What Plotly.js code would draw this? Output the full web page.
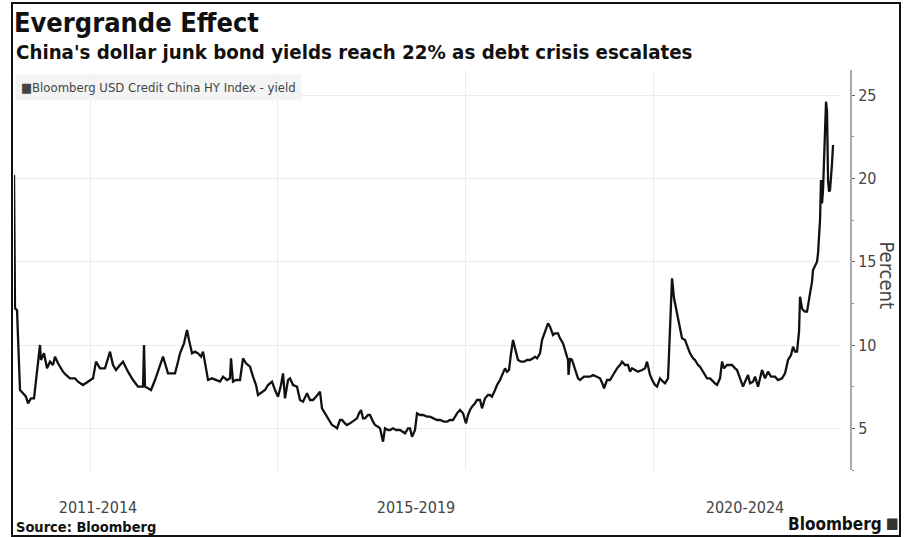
<!DOCTYPE html>
<html>
<head>
<meta charset="utf-8">
<script src="https://cdn.plot.ly/plotly-3.0.1.min.js"></script>
<style>
  html, body { margin: 0; padding: 0; background: #ffffff; }
  #frame { position: absolute; left: 11px; top: 2px; width: 886px; height: 531px; border: 2px solid #111; background: #fff; }
  #chart { width: 886px; height: 531px; }
</style>
</head>
<body>
<div id="frame"><div id="chart"></div></div>
<script>
// Time index (arbitrary hidden unit) and index yield in percent
const period = [0,0.5,1,3,4,6,9,12,14,17,20,22,24,26,27,30,33,36,39,41,44,49,52,56,61,64,69,74,79,82,86,91,94,96,99,102,106,109,114,119,124,129,130,131,134,137,141,144,149,154,158,161,164,166,170,173,175,178,181,184,187,189,192,194,198,203,206,209,213,216,217,219,222,226,229,232,236,239,242,244,248,251,254,258,261,264,267,269,271,274,276,279,283,286,289,293,296,299,302,306,308,311,313,316,318,321,323,326,328,331,333,336,338,341,343,345,347,349,351,354,356,359,361,364,366,369,371,374,376,379,382,386,389,391,394,396,398,401,403,406,409,413,416,420,423,426,430,433,436,439,441,443,446,449,452,454,456,458,461,463,466,468,471,474,476,478,481,483,486,489,491,493,495,497,499,501,504,507,510,513,516,519,521,523,526,528,531,534,536,539,541,544,546,549,551,554,554.5,556,558,561,564,566,570,573,576,579,582,586,589,590,593,596,599,603,606,608,611,614,616,618,621,624,628,631,633,636,639,641,643,646,649,651,654,656,658,660,662,664,666,668,671,674,676,679,681,684,686,688,691,693,696,699,701,703,706,708,710,713,716,718,721,723,726,729,731,734,736,739,741,744,746,748,751,754,757,761,764,768,771,774,777,779,781,783,785,786,788,789,791,793,796,798,799,801,803,804,805,806,807,808,809,810,811,812,813,814,815,816,818,819];
const yieldPct = [20.2,16.5,12.2,12.1,10.0,7.3,7.1,6.9,6.5,6.8,6.8,7.9,9.0,10.0,9.1,9.5,8.6,9.0,8.8,9.3,8.9,8.4,8.2,8.0,8.0,7.8,7.6,7.8,8.0,9.0,8.6,8.6,9.2,9.6,8.8,8.5,8.8,9.0,8.4,7.9,7.5,7.5,10.0,7.5,7.4,7.3,7.9,8.4,9.3,8.3,8.3,8.3,9.0,9.5,10.1,10.9,10.3,9.5,9.6,9.5,9.3,9.6,8.6,7.9,8.0,7.9,7.8,8.1,7.9,8.0,9.2,7.8,7.9,7.9,9.2,8.9,8.7,8.1,7.6,7.0,7.2,7.3,7.6,7.8,7.3,6.9,7.6,8.3,6.8,7.9,8.0,7.6,7.5,6.7,6.6,7.1,6.7,6.7,6.9,7.2,6.2,5.9,5.7,5.4,5.2,5.1,5.0,5.5,5.5,5.3,5.2,5.3,5.4,5.5,5.6,5.9,6.1,5.6,5.6,5.8,5.8,5.4,5.2,5.1,5.0,4.2,5.0,4.9,4.9,5.0,4.9,4.9,4.8,4.7,5.0,5.0,4.5,4.9,5.9,5.8,5.8,5.7,5.7,5.6,5.5,5.5,5.4,5.4,5.5,5.5,5.7,5.9,6.1,5.9,5.3,5.8,6.1,6.3,6.5,6.7,6.7,6.2,6.8,7.0,7.0,6.9,7.3,7.6,7.9,8.4,8.6,8.4,8.5,9.5,10.3,9.8,9.1,9.0,9.0,9.1,9.1,9.2,9.3,9.2,9.5,10.3,10.8,11.3,11.1,10.6,10.7,10.7,10.4,10.1,9.7,9.1,8.2,9.2,9.1,8.6,8.0,7.9,8.1,8.1,8.1,8.2,8.1,8.0,7.6,7.4,7.9,7.9,8.2,8.6,8.8,9.0,8.8,8.8,8.4,8.6,8.5,8.4,8.5,8.6,9.0,8.2,7.8,7.6,7.5,8.0,7.8,7.7,8.0,11.0,14.0,12.8,12.2,11.8,11.0,10.4,10.3,9.8,9.5,9.2,9.1,8.8,8.7,8.5,8.2,8.0,8.0,7.8,7.7,7.6,8.0,9.0,8.6,8.8,8.8,8.8,8.6,8.5,8.0,7.5,7.8,8.2,7.7,7.8,8.1,7.5,8.0,8.5,8.0,8.4,8.1,8.1,7.9,8.0,8.3,9.1,9.4,9.9,9.6,9.6,10.8,12.9,12.2,12.1,12.0,12.0,13.1,13.8,14.5,14.8,15.0,15.5,16.5,17.5,19.9,18.5,19.3,21.1,22.5,24.6,24.0,19.9,19.2,19.3,20.9,22.0];

const gridPeriods = [76, 263, 451, 639];
const labelPeriods = [84, 402, 731];
const labelText = ['2011-2014', '2015-2019', '2020-2024'];
const yTicks = [5, 10, 15, 20, 25];

const seriesName = 'Bloomberg USD Credit China HY Index - yield';
const titleText = 'Evergrande Effect';
const subtitleText = "China's dollar junk bond yields reach 22% as debt crisis escalates";
const sourceText = 'Source: Bloomberg';

const FONT = '"DejaVu Sans Condensed", "Liberation Sans Narrow", "DejaVu Sans", sans-serif';

const trace = {
  x: period, y: yieldPct, type: 'scatter', mode: 'lines',
  name: seriesName, showlegend: false,
  line: { color: '#111111', width: 2.3 }, hoverinfo: 'skip'
};

const layout = {
  width: 886, height: 531,
  margin: { l: 1, r: 48, t: 66, b: 65 },
  paper_bgcolor: '#ffffff', plot_bgcolor: '#ffffff',
  font: { family: FONT, color: '#444' },
  title: {
    text: titleText, xref: 'container', x: 0.001, xanchor: 'left',
    yref: 'container', y: 0.966, yanchor: 'middle',
    font: { family: FONT, size: 27, weight: 700, color: '#111' }
  },
  xaxis: {
    domain: [0, 0.9869], range: [0, 826],
    tickmode: 'array', tickvals: labelPeriods, ticktext: labelText,
    showgrid: false, zeroline: false, showline: false, ticks: '',
    ticklabelstandoff: 26,
    tickfont: { family: FONT, size: 16, color: '#444' },
    minor: { tickmode: 'array', tickvals: gridPeriods, showgrid: true, gridcolor: '#ebebeb', gridwidth: 1, ticks: '' }
  },
  yaxis: {
    anchor: 'free', position: 1, side: 'right',
    range: [2.5, 26.5], tickmode: 'array', tickvals: yTicks,
    showline: true, linecolor: '#a9a9a9', linewidth: 2,
    ticks: 'outside', ticklen: 3, tickcolor: '#666', tickwidth: 1,
    showgrid: true, gridcolor: '#ebebeb', zeroline: false,
    tickfont: { family: FONT, size: 16, color: '#444' },
    minor: { dtick: 2.5, tick0: 0, ticks: 'outside', ticklen: 2, tickcolor: '#888', showgrid: false }
  },
  annotations: [
    { text: subtitleText, xref: 'paper', yref: 'paper', x: 0, y: 1.045, xanchor: 'left', yanchor: 'middle',
      showarrow: false, font: { family: FONT, size: 20.3, weight: 700, color: '#111' } },
    { text: '■' + seriesName, xref: 'paper', yref: 'paper', x: 0, y: 0.9575, xanchor: 'left', yanchor: 'middle',
      showarrow: false, bgcolor: '#f4f4f4', borderpad: 5, xshift: 1,
      font: { family: FONT, size: 13, color: '#444' } },
    { text: 'Percent', xref: 'paper', yref: 'paper', x: 1.0425, y: 0.4875, xanchor: 'center', yanchor: 'middle',
      textangle: 90, showarrow: false, font: { family: FONT, size: 20, color: '#444' } },
    { text: sourceText, xref: 'paper', yref: 'paper', x: 0, y: -0.1425, xanchor: 'left', yanchor: 'middle',
      showarrow: false, font: { family: FONT, size: 14.5, weight: 700, color: '#111' } },
    { text: 'Bloomberg', xref: 'paper', yref: 'paper', x: 1.039, y: -0.135, xanchor: 'right', yanchor: 'middle',
      showarrow: false, font: { family: FONT, size: 17, weight: 700, color: '#111' } },
    { text: '■', xref: 'paper', yref: 'paper', x: 1.049, y: -0.132, xanchor: 'center', yanchor: 'middle',
      showarrow: false, font: { family: FONT, size: 15, color: '#333' } }
  ]
};

Plotly.newPlot('chart', [trace], layout, { displayModeBar: false, staticPlot: true });
</script>
</body>
</html>
